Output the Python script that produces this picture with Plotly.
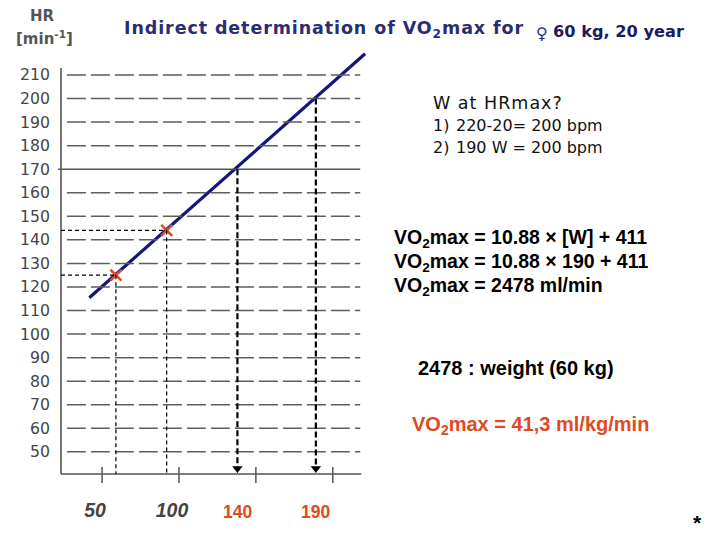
import plotly.graph_objects as go

# ---------------- data ----------------
hr_ticks = [50, 60, 70, 80, 90, 100, 110, 120, 130, 140, 150, 160, 170, 180, 190, 200, 210]
w_ticks = [50, 100, 150, 200]
w_tick_labels = ["50", "100", "", ""]
measured_w = [59, 92]
measured_hr = [125, 144]
line_w = [41.7, 221]
line_hr = [115.4, 219]
target_w = [138, 189]
target_hr = [170, 200]
target_labels = ["140", "190"]

# ---------------- geometry helpers ----------------
OFF = 8                                  # default page body margin
W, H = 720 - OFF, 540 - OFF
L, R, T, B = 54, 370, 50, 474           # plot area in reference px
X_RANGE = [23.3, 224.2]
Y_RANGE = [40.6, 220.6]


def px2x(px):
    return (px - L) / (R - L)


def py2y(py):
    return (B - py) / (B - T)


ARIAL = "Arial, Liberation Sans, sans-serif"
DEJA = "DejaVu Sans, Verdana, sans-serif"
NAVY = "#2c2c72"
RED = "#e04a22"

fig = go.Figure()

# regression line
fig.add_trace(go.Scatter(x=line_w, y=line_hr, mode="lines",
                         line=dict(color="#15157e", width=3.2),
                         hoverinfo="skip", showlegend=False))
# measured points
fig.add_trace(go.Scatter(x=measured_w, y=measured_hr, mode="markers",
                         marker=dict(symbol="x-thin", size=11,
                                     line=dict(color=RED, width=2.6)),
                         cliponaxis=False, showlegend=False))
# arrow heads
fig.add_trace(go.Scatter(x=target_w, y=[Y_RANGE[0] + 2.3] * len(target_w), mode="markers",
                         marker=dict(symbol="triangle-down", size=9, color="black"),
                         cliponaxis=False, showlegend=False))

shapes = []
# horizontal grid lines
for hr in hr_ticks:
    if hr == 170:
        shapes.append(dict(type="line", xref="paper", yref="y",
                           x0=px2x(51), x1=px2x(360), y0=hr, y1=hr,
                           line=dict(color="#555555", width=1.5)))
    else:
        shapes.append(dict(type="line", xref="paper", yref="y",
                           x0=px2x(60), x1=px2x(360), y0=hr, y1=hr,
                           line=dict(color="#5e5e5e", width=1.5, dash="19px,5px")))

# axes lines
shapes.append(dict(type="line", xref="paper", yref="paper",
                   x0=0, x1=0, y0=0, y1=py2y(68),
                   line=dict(color="#555555", width=1.6)))
shapes.append(dict(type="line", xref="paper", yref="paper",
                   x0=0, x1=px2x(361), y0=0, y1=0,
                   line=dict(color="#555555", width=1.6)))
# x ticks crossing axis
for w in w_ticks:
    shapes.append(dict(type="line", xref="x", yref="paper",
                       x0=w, x1=w, y0=py2y(483), y1=py2y(467),
                       line=dict(color="#555555", width=1.5)))

# thin dashed guides for measured points
for w, hr in zip(measured_w, measured_hr):
    shapes.append(dict(type="line", xref="x", yref="y",
                       x0=X_RANGE[0], x1=w, y0=hr, y1=hr,
                       line=dict(color="black", width=1.2, dash="4px,3px")))
    shapes.append(dict(type="line", xref="x", yref="y",
                       x0=w, x1=w, y0=hr, y1=Y_RANGE[0],
                       line=dict(color="black", width=1.2, dash="4px,3px")))

# bold dashed arrows for targets
for w, hr in zip(target_w, target_hr):
    shapes.append(dict(type="line", xref="x", yref="y",
                       x0=w, x1=w, y0=hr, y1=Y_RANGE[0] + 3,
                       line=dict(color="black", width=2.2, dash="6px,3px")))

annotations = []


def txt(text, px, py, size, color="black", bold=False, anchor="left", family=ARIAL):
    annotations.append(dict(
        text=f"<b>{text}</b>" if bold else text,
        xref="paper", yref="paper", x=px2x(px), y=py2y(py),
        xanchor=anchor, yanchor="middle", showarrow=False,
        font=dict(size=size, color=color, family=family)))


# title
txt("<span style='letter-spacing:0.9px'>Indirect determination of VO<sub>2</sub>max for</span>",
    116, 30, 17.5, NAVY, bold=True, family=DEJA)
txt("♀", 546, 33, 16, NAVY, anchor="center", family=DEJA)
txt("60 kg, 20 year", 555, 31, 16.2, "#1c1c5e", bold=True, family=DEJA)

# y axis label
txt("HR", 35, 16, 15, "#555555", bold=True, anchor="center", family=DEJA)
txt("[min<sup>-1</sup>]", 37, 38, 15, "#555555", bold=True, anchor="center", family=DEJA)

# right-hand notes
txt("<span style='letter-spacing:1px'>W at HRmax?</span>", 432, 103, 17.5, "#111111", family=DEJA)
txt("1)", 432, 125, 16, "#111111", family=DEJA)
txt("220-20= 200 bpm", 456, 125, 16, "#111111", family=DEJA)
txt("2)", 432, 147, 16, "#111111", family=DEJA)
txt("190 W = 200 bpm", 456, 147, 16, "#111111", family=DEJA)

txt("VO<sub>2</sub>max = 10.88 × [W] + 411", 392, 238, 19.5, "black", bold=True)
txt("VO<sub>2</sub>max = 10.88 × 190 + 411", 392, 262, 19.5, "black", bold=True)
txt("VO<sub>2</sub>max = 2478 ml/min", 392, 286, 19.5, "black", bold=True)

txt("2478 : weight (60 kg)", 417, 368, 20, "black", bold=True)
txt("VO<sub>2</sub>max = 41,3 ml/kg/min", 411, 425, 20, RED, bold=True)

# target labels under axis
for w, lab in zip(target_w, target_labels):
    annotations.append(dict(text=f"<b>{lab}</b>", xref="x", yref="paper",
                            x=w, y=py2y(512), xanchor="center", yanchor="middle",
                            showarrow=False, font=dict(size=17.5, color=RED, family=ARIAL)))

txt("<b>*</b>", 705, 522, 21, "black", anchor="center")

fig.update_layout(
    width=W, height=H,
    margin=dict(l=L - OFF, r=(720 - R), t=T - OFF, b=(540 - B), pad=0),
    paper_bgcolor="white", plot_bgcolor="white",
    showlegend=False,
    shapes=shapes, annotations=annotations,
    xaxis=dict(range=X_RANGE, tickvals=w_ticks, ticktext=w_tick_labels,
               showgrid=False, zeroline=False, showline=False, ticks="",
               ticklabelstandoff=22, ticklabelshift=-7,
               tickfont=dict(size=19.5, color="#444444", family=ARIAL,
                             weight="bold", style="italic")),
    yaxis=dict(range=Y_RANGE, tickvals=hr_ticks,
               showgrid=False, zeroline=False, showline=False, ticks="",
               ticklabelstandoff=10,
               tickfont=dict(size=15.7, color="#454545", family=DEJA)),
)

fig.write_html("out.html")
